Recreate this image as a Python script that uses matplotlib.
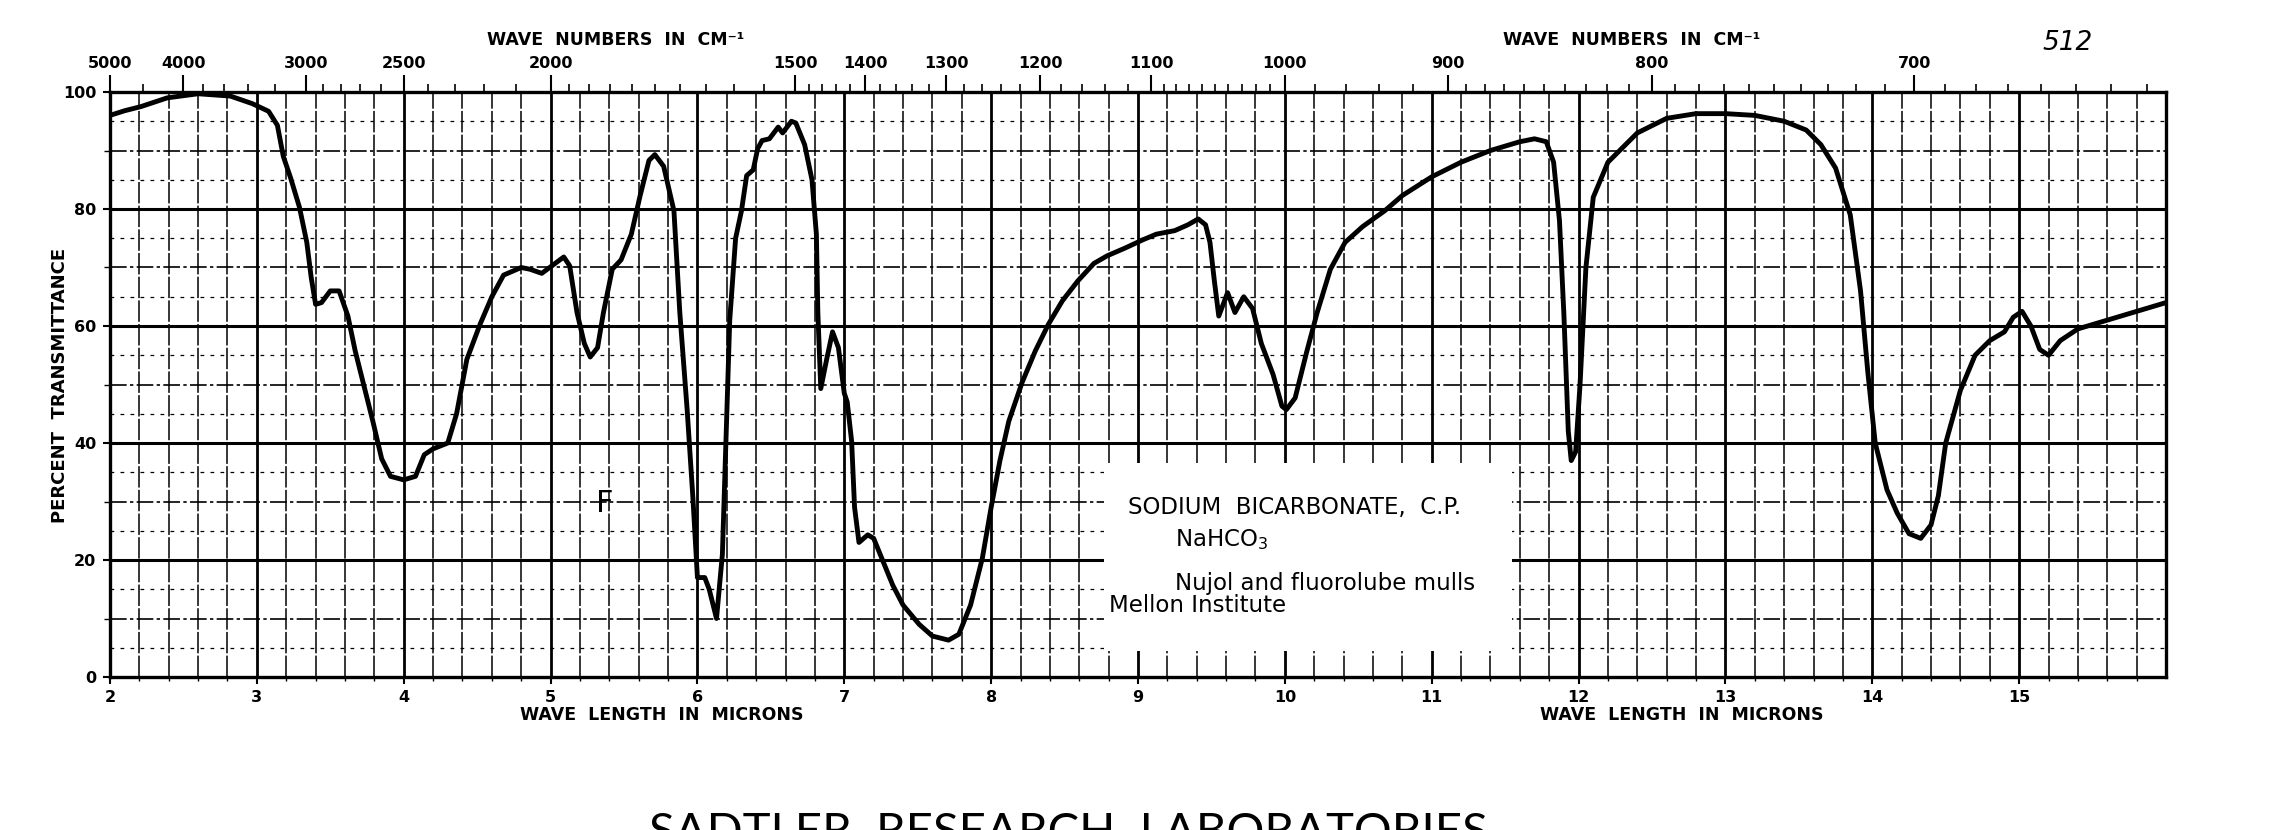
import matplotlib
matplotlib.use("Agg")
import matplotlib.pyplot as plt
from matplotlib import font_manager
from matplotlib.patches import Rectangle

# ---------------- data ----------------
wavelength = [2.00, 2.10, 2.21, 2.39, 2.60, 2.82, 2.97, 3.08, 3.14, 3.18, 3.23, 3.29, 3.34, 3.37,
              3.40, 3.44, 3.50, 3.56, 3.62, 3.67, 3.73, 3.79, 3.85, 3.91, 4.00, 4.08, 4.14, 4.20,
              4.30, 4.36, 4.43, 4.52, 4.60, 4.68, 4.80, 4.86, 4.94, 5.01, 5.09, 5.13, 5.18, 5.23,
              5.27, 5.32, 5.36, 5.42, 5.48, 5.55, 5.61, 5.67, 5.71, 5.77, 5.84, 5.88, 5.93, 5.97,
              6.00, 6.05, 6.08, 6.13, 6.17, 6.20, 6.22, 6.26, 6.30, 6.335, 6.38, 6.41, 6.44, 6.49,
              6.55, 6.58, 6.64, 6.67, 6.73, 6.78, 6.81, 6.82, 6.84, 6.88, 6.92, 6.96, 7.00, 7.02,
              7.05, 7.07, 7.10, 7.16, 7.20, 7.265, 7.33, 7.40, 7.51, 7.60, 7.71, 7.78, 7.86, 7.94,
              8.00, 8.06, 8.12, 8.21, 8.30, 8.39, 8.485, 8.59, 8.70, 8.79, 8.91, 9.03, 9.125, 9.25,
              9.34, 9.41, 9.46, 9.49, 9.52, 9.55, 9.58, 9.61, 9.66, 9.72, 9.78, 9.84, 9.92, 9.98,
              10.01, 10.07, 10.15, 10.22, 10.31, 10.41, 10.53, 10.68, 10.80, 11.00, 11.20, 11.40,
              11.60, 11.70, 11.78, 11.83, 11.87, 11.90, 11.93, 11.95, 11.98, 12.01, 12.05, 12.10,
              12.20, 12.40, 12.60, 12.80, 13.00, 13.20, 13.40, 13.55, 13.65, 13.75, 13.85, 13.92,
              13.97, 14.02, 14.10, 14.17, 14.25, 14.33, 14.40, 14.45, 14.50, 14.60, 14.70, 14.80,
              14.90, 14.96, 15.02, 15.08, 15.14, 15.20, 15.28, 15.40, 15.60, 15.80, 16.00]
transmittance = [96.0, 96.8, 97.5, 99.0, 99.7, 99.3, 98.0, 96.7, 94.3, 89.0, 85.3, 80.3, 74.3, 68.3,
                 63.7, 64.0, 66.0, 66.0, 61.7, 55.7, 49.7, 43.7, 37.3, 34.3, 33.7, 34.3, 38.0, 39.0,
                 40.0, 45.0, 54.3, 60.3, 65.0, 68.7, 70.0, 69.7, 69.0, 70.3, 71.8, 70.3, 62.3, 57.0,
                 54.7, 56.3, 62.3, 69.7, 71.3, 75.7, 82.3, 88.3, 89.3, 87.3, 79.7, 62.3, 45.7, 30.3,
                 17.0, 17.0, 15.0, 10.0, 21.0, 45.0, 61.0, 75.0, 79.7, 85.7, 86.7, 90.3, 91.7, 92.0,
                 94.0, 93.0, 95.0, 94.7, 91.0, 85.0, 75.7, 62.3, 49.3, 54.3, 59.0, 56.3, 48.5, 47.0,
                 40.3, 29.0, 23.0, 24.3, 23.7, 19.7, 15.7, 12.3, 9.0, 7.0, 6.3, 7.3, 12.3, 20.3,
                 29.0, 37.0, 43.7, 50.3, 55.7, 60.3, 64.3, 67.7, 70.7, 72.0, 73.3, 74.7, 75.7, 76.3,
                 77.3, 78.3, 77.3, 74.3, 67.7, 61.7, 63.7, 65.7, 62.3, 65.0, 63.0, 57.0, 51.7, 46.3,
                 45.7, 47.7, 55.7, 62.3, 69.7, 74.3, 77.0, 79.7, 82.3, 85.5, 88.0, 90.0,
                 91.5, 92.0, 91.5, 88.0, 78.0, 62.0, 42.0, 37.0, 38.5, 50.0, 70.0, 82.0,
                 88.0, 93.0, 95.5, 96.3, 96.3, 96.0, 95.0, 93.5, 91.0, 87.0, 79.0, 66.0,
                 52.0, 40.0, 32.0, 28.0, 24.5, 23.7, 26.0, 31.0, 40.0, 49.0, 55.0, 57.5,
                 59.0, 61.5, 62.5, 60.0, 56.0, 55.0, 57.5, 59.5, 61.0, 62.5, 64.0]

micron_ticks = [2, 3, 4, 5, 6, 7, 8, 9, 10, 11, 12, 13, 14, 15]
micron_labels = ["2", "3", "4", "5", "6", "7", "8", "9", "10", "11", "12", "13", "14", "15"]
percent_ticks = [0, 20, 40, 60, 80, 100]
percent_labels = ["0", "20", "40", "60", "80", "100"]
wavenumber_labels = [5000, 4000, 3000, 2500, 2000, 1500, 1400, 1300, 1200, 1100, 1000, 900, 800, 700]

title_top = "WAVE  NUMBERS  IN  CM\u207b\u00b9"
title_bottom = "WAVE  LENGTH  IN  MICRONS"
y_title = "PERCENT  TRANSMITTANCE"
box_lines = ["SODIUM  BICARBONATE,  C.P.", "NaHCO$_3$", "Nujol and fluorolube mulls", "Mellon Institute"]
footer = "SADTLER  RESEARCH  LABORATORIES"

# ---------------- fonts ----------------
avail = {f.name for f in font_manager.fontManager.ttflist}
def pick(*names):
    for n in names:
        if n in avail:
            return n
    return "DejaVu Sans"
LIGHT = pick("Lato", "Open Sans", "DejaVu Sans")
LAB = "DejaVu Sans"

W, H = 2269, 830
fig = plt.figure(figsize=(W / 100, H / 100), dpi=100)
fig.patch.set_facecolor("white")
L, R, T, B = 110, 2166, 92, 677
ax = fig.add_axes([L / W, 1 - B / H, (R - L) / W, (B - T) / H])
ax.set_xlim(2, 16)
ax.set_ylim(0, 100)

# vertical grid every 0.2 micron
for i in range(1, 70):
    v = 2 + i * 0.2
    if i % 5 == 0:
        ax.axvline(v, color="black", lw=2.0, zorder=1)
    else:
        ax.axvline(v, color="black", lw=1.1, zorder=1, dashes=(14, 1.5))
# horizontal grid
for t in range(5, 100, 5):
    if t % 20 == 0:
        ax.axhline(t, color="black", lw=2.2, zorder=1)
    elif t % 10 == 0:
        ax.axhline(t, color="black", lw=1.2, zorder=1, dashes=(10, 2, 2, 2))
    else:
        ax.axhline(t, color="black", lw=0.9, zorder=1, dashes=(3, 5))

# label box
ax.add_patch(Rectangle((8.77, 4.4), 11.55 - 8.77, 36.5 - 4.4, facecolor="white",
                       edgecolor="none", zorder=2))

ax.plot(wavelength, transmittance, color="black", lw=3.5, zorder=3,
        solid_joinstyle="round", solid_capstyle="round")

for s in ax.spines.values():
    s.set_linewidth(2.4)
    s.set_zorder(4)

ax.set_xticks(micron_ticks)
ax.set_xticklabels(micron_labels)
ax.set_xticks([2 + i * 0.2 for i in range(70)], minor=True)
ax.set_yticks(percent_ticks)
ax.set_yticklabels(percent_labels)
ax.set_yticks(list(range(0, 101, 10)), minor=True)
ax.tick_params(axis="x", which="major", direction="out", length=5, width=1.5, pad=4,
               labelsize=11.5)
ax.tick_params(axis="x", which="minor", direction="out", length=3, width=1)
ax.tick_params(axis="y", which="major", direction="out", length=5, width=1.5, pad=5,
               labelsize=11.5)
ax.tick_params(axis="y", which="minor", direction="out", length=4, width=1)
for lab in ax.get_xticklabels() + ax.get_yticklabels():
    lab.set_fontweight("bold")
    lab.set_family(LAB)

# top wavenumber axis
ax2 = ax.twiny()
ax2.set_xlim(2, 16)
ax2.set_xticks([1e4 / w for w in wavenumber_labels])
ax2.set_xticklabels([str(w) for w in wavenumber_labels])
minor_wn = [4500]
minor_wn += list(range(3800, 3000, -200))
minor_wn += [w for w in range(2900, 2000, -100) if w != 2500]
minor_wn += [w for w in range(1950, 1500, -50)]
minor_wn += [w for w in range(1480, 1100, -20) if w % 100 != 0]
minor_wn += [w for w in range(1090, 1000, -10)]
minor_wn += [w for w in range(980, 900, -20)]
minor_wn += [w for w in range(890, 620, -10) if w % 100 != 0]
ax2.set_xticks([1e4 / w for w in minor_wn], minor=True)
ax2.tick_params(axis="x", which="major", direction="out", length=12, width=1.5, pad=3,
                labelsize=11.5)
ax2.tick_params(axis="x", which="minor", direction="out", length=6, width=1.2)
for lab in ax2.get_xticklabels():
    lab.set_fontweight("bold")
    lab.set_family(LAB)
for s in ax2.spines.values():
    s.set_visible(False)

def fx(px):
    return px / W
def fy(py):
    return 1 - py / H

# titles
for cx in (616, 1632):
    fig.text(fx(cx), fy(40), title_top, ha="center", va="center", fontsize=12.5,
             fontweight="bold", family=LAB)
for cx in (662, 1682):
    fig.text(fx(cx), fy(715), title_bottom, ha="center", va="center", fontsize=12.5,
             fontweight="bold", family=LAB)
fig.text(fx(60), fy(385), y_title, ha="center", va="center", rotation=90, fontsize=13,
         fontweight="bold", family=LAB)

# label box text
ax.text(8.93, 29.0, box_lines[0], fontsize=16.5, va="center", ha="left", zorder=5, family=LAB)
ax.text(9.25, 23.5, box_lines[1], fontsize=16.5, va="center", ha="left", zorder=5, family=LAB)
ax.text(9.25, 16.0, box_lines[2], fontsize=16.5, va="center", ha="left", zorder=5, family=LAB)
ax.text(8.80, 12.3, box_lines[3], fontsize=16.5, va="center", ha="left", zorder=5, family=LAB)

# handwritten marks
ax.text(5.37, 29.7, "F", fontsize=22, ha="center", va="center", zorder=5,
        family="DejaVu Sans")
fig.text(fx(2068), fy(43), "512", fontsize=19, ha="center", va="center",
         style="italic", family="DejaVu Sans")

# footer (cut at the bottom edge, as in the scanned page)
fig.text(fx(1068), fy(812), footer, fontsize=34, ha="center", va="top", family=LIGHT)

fig.savefig("out.png", dpi=100, facecolor="white")
